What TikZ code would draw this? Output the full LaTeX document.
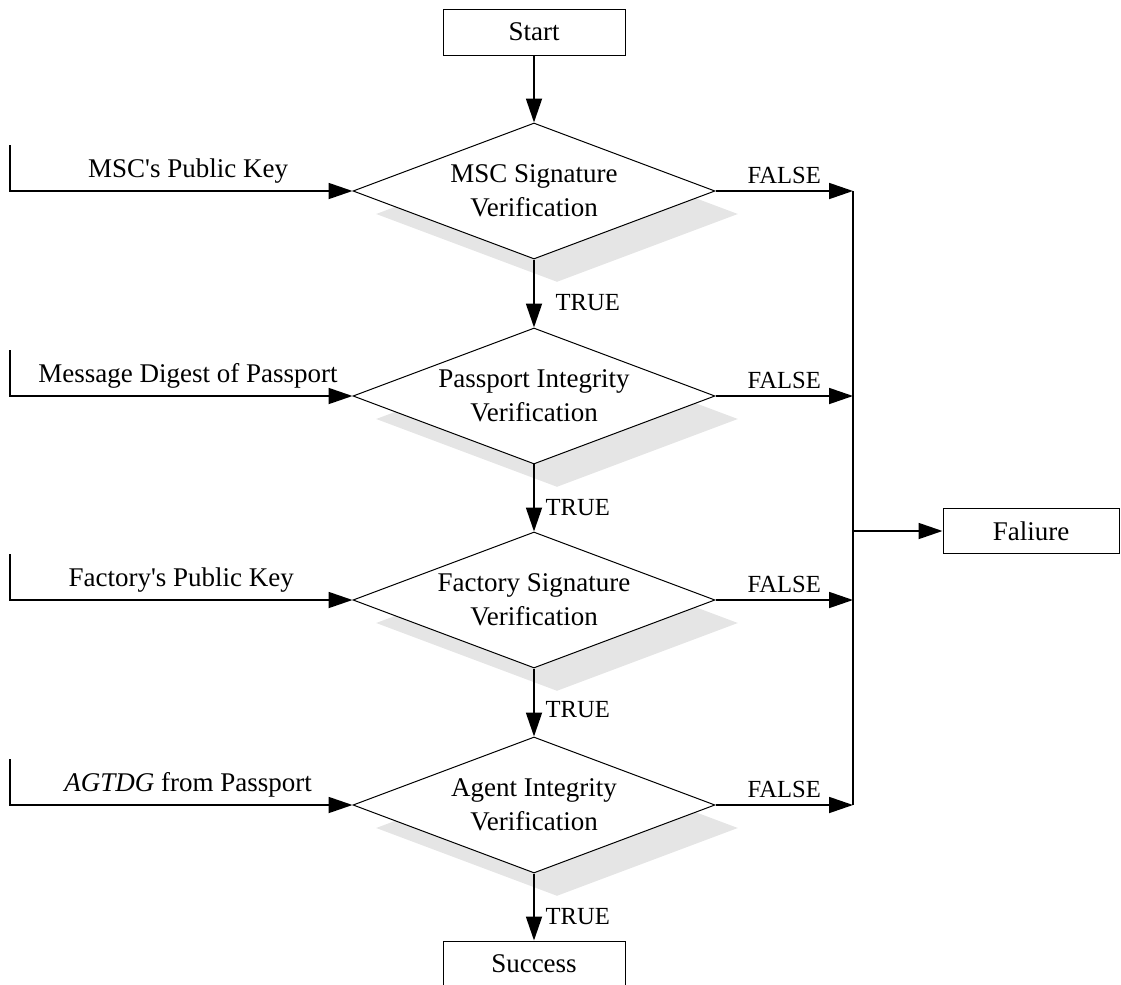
\documentclass[tikz,border=0pt]{standalone}
\usepackage{fontspec}
\setmainfont{Liberation Serif}[Ligatures=TeXOff]
\usetikzlibrary{shapes.geometric,arrows.meta,shadows}

\begin{document}
\begin{tikzpicture}[x=0.5pt,y=-0.5pt,
    box/.style={draw, line width=0.5pt, minimum width=91pt, minimum height=23pt,
      inner sep=0pt, font=\fontsize{13.5}{17}\selectfont},
    check/.style={diamond, draw, fill=white, line width=0.5pt, inner sep=0pt,
      minimum width=181pt, minimum height=68pt,
      drop shadow={shadow xshift=11.5pt, shadow yshift=-11.5pt, fill=black!10, opacity=1}},
    txt/.style={align=center, font=\fontsize{13.5}{17}\selectfont},
    inp/.style={font=\fontsize{13.5}{17}\selectfont},
    flag/.style={font=\fontsize{12.3}{14}\selectfont},
    link/.style={line width=0.9pt, -{Triangle[length=12pt,width=8pt]}}]

        \useasboundingbox (0,0) rectangle (1121,985);

        % start, end and failure boxes
        \begin{scope}[every node/.style={box}]
          \node (start)   at (534,32)  {Start};
          \node (success) at (534,964) {Success};
          \node[minimum width=88pt, minimum height=22.5pt] (fail) at (1031,531) {Faliure};
        \end{scope}

        % the four checks
        \node[check, label={[txt]center:{MSC Signature\\Verification}}]      (msc)  at (534,191) {};
        \node[check, label={[txt]center:{Passport Integrity\\Verification}}] (pass) at (534,396) {};
        \node[check, label={[txt]center:{Factory Signature\\Verification}}]  (fac)  at (534,600) {};
        \node[check, label={[txt]center:{Agent Integrity\\Verification}}]    (agt)  at (534,805) {};

        % inputs and the failure bus
        \coordinate (in1) at (10,145);
        \coordinate (in2) at (10,350);
        \coordinate (in3) at (10,554);
        \coordinate (in4) at (10,759);
        \coordinate (b1) at (853,191);
        \coordinate (b2) at (853,396);
        \coordinate (b3) at (853,600);
        \coordinate (b4) at (853,805);
        \coordinate (b5) at (853,531);

        \begin{scope}[every path/.style={link}]
          \path (start) edge (msc);
          \path (msc)  edge node[flag, right=7pt, pos=0.63] {TRUE} (pass);
          \path (pass) edge node[flag, right=2pt, pos=0.65] {TRUE} (fac);
          \path (fac)  edge node[flag, right=2pt, pos=0.61] {TRUE} (agt);
          \path (agt)  edge node[flag, right=2pt, pos=0.65] {TRUE} (success);

          \draw (in1) |- node[inp, above, pos=0.76] {MSC's Public Key} (msc.west);
          \draw (in2) |- node[inp, above, pos=0.76] {Message Digest of Passport} (pass.west);
          \draw (in3) |- node[inp, above, pos=0.75] {Factory's Public Key} (fac.west);
          \draw (in4) |- node[inp, above, pos=0.76] {\emph{AGTDG} from Passport} (agt.west);

          \draw (msc.east)  -- node[flag, above] {FALSE} (b1);
          \draw (pass.east) -- node[flag, above] {FALSE} (b2);
          \draw (fac.east)  -- node[flag, above] {FALSE} (b3);
          \draw (agt.east)  -- node[flag, above] {FALSE} (b4);

          \draw (b5) -- (fail);
        \end{scope}
        \draw[line width=0.9pt] (b1) -- (b4);

      \end{tikzpicture}
\end{document}
